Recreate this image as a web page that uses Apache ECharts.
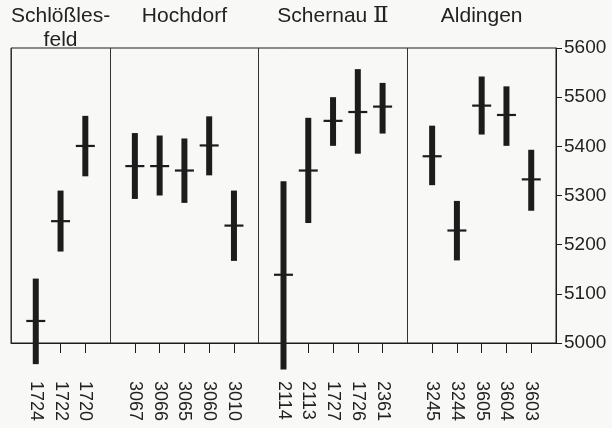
<!DOCTYPE html>
<html>
<head>
<meta charset="utf-8">
<script src="https://cdn.jsdelivr.net/npm/echarts@6/dist/echarts.min.js"></script>
<style>
html,body{margin:0;padding:0;background:#f8f8f6;}
#chart{width:612px;height:428px;}
</style>
</head>
<body>
<div id="chart"></div>
<script>
// ---- data ----
const groupNames = ['Schlößles-\nfeld', 'Hochdorf', 'Schernau Ⅱ', 'Aldingen'];
const groupSamples = [
  ['1724', '1722', '1720'],
  ['3067', '3066', '3065', '3060', '3010'],
  ['2114', '2113', '1727', '1726', '2361'],
  ['3245', '3244', '3605', '3604', '3603']
];
const sampleMean = [5045, 5248, 5401, 5360, 5360, 5351, 5402, 5239, 5139, 5351, 5452, 5470, 5481, 5380, 5229, 5483, 5464, 5333];
const sampleLow  = [4957, 5186, 5339, 5293, 5300, 5285, 5341, 5167, 4946, 5244, 5401, 5385, 5426, 5321, 5168, 5424, 5401, 5269];
const sampleHigh = [5131, 5310, 5462, 5427, 5422, 5416, 5461, 5310, 5329, 5458, 5500, 5557, 5529, 5442, 5289, 5542, 5522, 5393];
const yMin = 5000, yMax = 5600, yStep = 100;

// ---- build categories ----
const categories = [''];
const topLabels = [''];
const sampleIndex = [];
groupSamples.forEach(function (items, g) {
  const start = categories.length;
  items.forEach(function (s) {
    sampleIndex.push(categories.length);
    categories.push(s);
    topLabels.push('');
  });
  topLabels[start + Math.floor((items.length - 1) / 2)] = groupNames[g];
  categories.push('');
  topLabels.push('');
});
const seriesData = sampleMean.map(function (m, i) {
  return [sampleIndex[i], sampleLow[i], sampleHigh[i], m];
});

const FONT = "'Liberation Sans', Arial, 'DejaVu Sans', sans-serif";
const INK = '#1c1c1c';

const chart = echarts.init(document.getElementById('chart'), null, {renderer: 'canvas'});
chart.setOption({
  backgroundColor: '#f8f8f6',
  animation: false,
  grid: {left: 11, top: 48, right: 56, bottom: 85, show: true, borderColor: INK, borderWidth: 1, backgroundColor: 'transparent'},
  xAxis: [{
    type: 'category',
    data: categories,
    boundaryGap: false,
    position: 'bottom',
    axisLine: {show: true, lineStyle: {color: INK, width: 1}},
    axisTick: {show: true, length: 10, interval: function (i, v) { return v !== ''; }, lineStyle: {color: INK, width: 1}},
    axisLabel: {
      rotate: -90, margin: 38, fontSize: 18, fontFamily: FONT, color: '#222',
      interval: function (i, v) { return v !== ''; }
    },
    splitLine: {show: true, interval: function (i, v) { return v === ''; }, lineStyle: {color: '#333', width: 1}}
  }, {
    type: 'category',
    data: topLabels,
    boundaryGap: false,
    position: 'top',
    axisLine: {show: false},
    axisTick: {show: false},
    splitLine: {show: false},
    axisLabel: {
      interval: 0, margin: 44, fontSize: 21, lineHeight: 24, fontFamily: FONT, color: '#222',
      verticalAlign: 'top', align: 'center',
      formatter: function (v) { return v.replace('Ⅱ', '{r|Ⅱ}'); },
      rich: {r: {fontFamily: "'DejaVu Serif', 'Liberation Serif', serif", fontSize: 23, lineHeight: 24, color: '#222'}}
    }
  }],
  yAxis: {
    type: 'value',
    position: 'right',
    min: yMin, max: yMax, interval: yStep,
    axisLine: {show: true, lineStyle: {color: INK, width: 1}},
    axisTick: {show: true, length: 6, lineStyle: {color: INK, width: 1}},
    axisLabel: {margin: 8, fontSize: 19, fontFamily: FONT, color: '#222', formatter: function (v) { return String(v); }},
    splitLine: {show: false}
  },
  series: [{
    type: 'custom',
    xAxisIndex: 0,
    clip: false,
    encode: {x: 0, y: [1, 2, 3]},
    data: seriesData,
    renderItem: function (params, api) {
      const x = api.value(0);
      const lo = api.coord([x, api.value(1)]);
      const hi = api.coord([x, api.value(2)]);
      const m = api.coord([x, api.value(3)]);
      return {
        type: 'group',
        children: [
          {type: 'rect', shape: {x: lo[0] - 3, y: hi[1], width: 6, height: lo[1] - hi[1]}, style: {fill: INK}},
          {type: 'rect', shape: {x: m[0] - 9.5, y: m[1] - 1, width: 19, height: 2.2}, style: {fill: INK}}
        ]
      };
    }
  }]
});
</script>
</body>
</html>
